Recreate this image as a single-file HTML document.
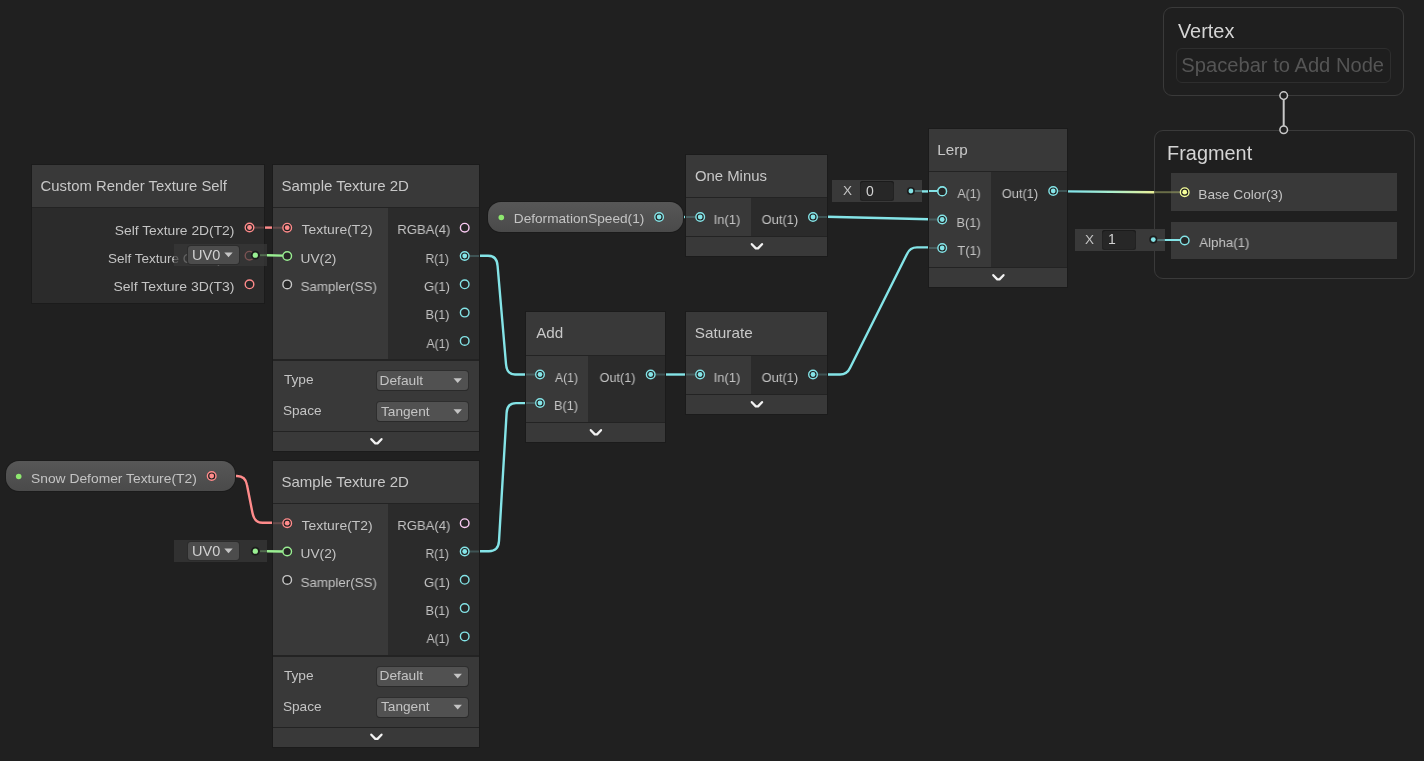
<!DOCTYPE html>
<html><head><meta charset="utf-8"><style>
html,body{margin:0;padding:0;width:1424px;height:761px;overflow:hidden;background:#202020;font-family:"Liberation Sans", sans-serif;}
#root{position:relative;width:1424px;height:761px;}
#root > div{position:absolute;}
.t{white-space:nowrap;line-height:normal;will-change:transform;}
svg{position:absolute;left:0;top:0;}

</style></head><body><div id="root">
<svg width="1424" height="761" style="position:absolute;left:0;top:0"><defs><linearGradient id="g1" gradientUnits="userSpaceOnUse" x1="1075" y1="0" x2="1152" y2="0"><stop offset="0" stop-color="#84e4e7"/><stop offset="0.45" stop-color="#a8eed0"/><stop offset="1" stop-color="#e6f09a"/></linearGradient></defs><path d="M479,255.8 L488,255.8 Q497,255.8 497.6,266 L506,364 Q506.8,374.5 515,374.5 L526,374.5" fill="none" stroke="#84e4e7" stroke-width="2.4" stroke-linejoin="round" /><path d="M479,551.2 L489,551.2 Q498.4,551.2 499,541 L506.6,413 Q507.2,403.1 516,403.1 L526,403.1" fill="none" stroke="#84e4e7" stroke-width="2.4" stroke-linejoin="round" /><path d="M665,374.5 L686,374.5" fill="none" stroke="#84e4e7" stroke-width="2.4" stroke-linejoin="round" /><path d="M827,374.5 L840,374.5 Q847,374.5 850,368 L907,254 Q910,247.4 917,247.4 L929,247.4" fill="none" stroke="#84e4e7" stroke-width="2.4" stroke-linejoin="round" /><path d="M827,216.8 L929,219.3" fill="none" stroke="#84e4e7" stroke-width="2.4" stroke-linejoin="round" /><path d="M683,217 L686,217" fill="none" stroke="#84e4e7" stroke-width="2.4" stroke-linejoin="round" /><path d="M916,191.4 L938,191.4" fill="none" stroke="#84e4e7" stroke-width="2.4" stroke-linejoin="round" /><path d="M1067,191.4 L1154,192.2" fill="none" stroke="url(#g1)" stroke-width="2.4" stroke-linejoin="round" /><path d="M1158,240 L1180,240" fill="none" stroke="#84e4e7" stroke-width="2.4" stroke-linejoin="round" /><path d="M264,227.6 L273,227.6" fill="none" stroke="#ff8b8b" stroke-width="2.4" stroke-linejoin="round" /><path d="M235,476 L237,476 Q245.5,476 247,485 L252.5,513 Q254.5,522.8 262.5,522.8 L273,522.8" fill="none" stroke="#ff8b8b" stroke-width="2.4" stroke-linejoin="round" /></svg>
<div style="left:31px;top:164px;width:234px;height:140px;background:#1b1b1b;"></div>
<div style="left:32px;top:165px;width:232px;height:42px;background:#393939;"></div>
<div style="left:32px;top:207px;width:232px;height:1px;background:#232323;"></div>
<div class="t" id="t0" style="left:41.5px;top:178.11px;font-size:14.8px;color:#c8c8c8;transform:translateX(-1.41px) scaleX(1.0043);transform-origin:0 0;">Custom Render Texture Self</div>
<div style="left:32px;top:208px;width:232px;height:95px;background:#2b2b2b;"></div>
<div class="t" id="t1" style="right:1190.4px;top:222.78px;font-size:13.5px;color:#c4c4c4;transform:translateX(-2.23px) scaleX(1.0243);transform-origin:0 0;">Self Texture 2D(T2)</div>
<div class="t" id="t2" style="left:107.6px;top:250.78px;font-size:13.5px;color:#c4c4c4;width:126px;overflow:hidden">Self Texture Cube(TC)</div>
<div class="t" id="t3" style="right:1190.4px;top:279.28px;font-size:13.5px;color:#c4c4c4;transform:translateX(-3.54px) scaleX(1.0357);transform-origin:0 0;">Self Texture 3D(T3)</div>
<div style="left:272px;top:164px;width:208px;height:288px;background:#1b1b1b;"></div>
<div style="left:273px;top:165px;width:206px;height:42px;background:#393939;"></div>
<div style="left:273px;top:207px;width:206px;height:1px;background:#232323;"></div>
<div class="t" id="t4" style="left:282.5px;top:178.11px;font-size:14.8px;color:#c8c8c8;transform:translateX(-1.62px) scaleX(1.0153);transform-origin:0 0;">Sample Texture 2D</div>
<div style="left:273px;top:208px;width:115px;height:151px;background:#393939;"></div>
<div style="left:388px;top:208px;width:91px;height:151px;background:#2b2b2b;"></div>
<div style="left:273px;top:359px;width:206px;height:2px;background:#232323;"></div>
<div style="left:273px;top:361px;width:206px;height:71px;background:#393939;"></div>
<div class="t" id="t5" style="left:301.6px;top:222.48px;font-size:13.5px;color:#c4c4c4;transform:translateX(-0.41px) scaleX(1.0294);transform-origin:0 0;">Texture(T2)</div>
<div class="t" id="t6" style="left:301.6px;top:250.78px;font-size:13.5px;color:#c4c4c4;transform:translateX(-1.42px) scaleX(1.0147);transform-origin:0 0;">UV(2)</div>
<div class="t" id="t7" style="left:301.6px;top:279.18px;font-size:13.5px;color:#c4c4c4;transform:translateX(-1.38px) scaleX(0.9868);transform-origin:0 0;">Sampler(SS)</div>
<div class="t" id="t8" style="right:974.4px;top:222.48px;font-size:13.5px;color:#c4c4c4;transform:translateX(2.34px) scaleX(0.9679);transform-origin:0 0;">RGBA(4)</div>
<div class="t" id="t9" style="right:974.4px;top:250.78px;font-size:13.5px;color:#c4c4c4;transform:translateX(2.57px) scaleX(0.8840);transform-origin:0 0;">R(1)</div>
<div class="t" id="t10" style="right:974.4px;top:279.08px;font-size:13.5px;color:#c4c4c4;transform:translateX(0.95px) scaleX(0.9640);transform-origin:0 0;">G(1)</div>
<div class="t" id="t11" style="right:974.4px;top:307.38px;font-size:13.5px;color:#c4c4c4;transform:translateX(1.56px) scaleX(0.9375);transform-origin:0 0;">B(1)</div>
<div class="t" id="t12" style="right:974.4px;top:335.68px;font-size:13.5px;color:#c4c4c4;transform:translateX(2.49px) scaleX(0.9000);transform-origin:0 0;">A(1)</div>
<div class="t" id="t13" style="left:284px;top:372.48px;font-size:13.5px;color:#c4c4c4;transform:translateX(-0.10px) scaleX(1.0138);transform-origin:0 0;">Type</div>
<div class="t" id="t14" style="left:284px;top:403.38px;font-size:13.5px;color:#c4c4c4;transform:translateX(-1.11px) scaleX(1.0108);transform-origin:0 0;">Space</div>
<div style="left:376.5px;top:371.2px;width:91.5px;height:19px;background:#515151;border-radius:3px;box-shadow:0 1px 0 #2a2a2a, 0 0 0 1px #2e2e2e"></div>
<div class="t" id="t15" style="left:380.5px;top:372.98px;font-size:13.5px;color:#c4c4c4;transform:translateX(-1.53px) scaleX(1.0190);transform-origin:0 0;">Default</div>
<div style="left:376.5px;top:402.1px;width:91.5px;height:19px;background:#515151;border-radius:3px;box-shadow:0 1px 0 #2a2a2a, 0 0 0 1px #2e2e2e"></div>
<div class="t" id="t16" style="left:380.5px;top:403.88px;font-size:13.5px;color:#c4c4c4;transform:translateX(-0.01px) scaleX(1.0104);transform-origin:0 0;">Tangent</div>
<div style="left:273px;top:431px;width:206px;height:1px;background:#232323;"></div>
<div style="left:273px;top:432px;width:206px;height:19px;background:#393939;"></div>
<div style="left:272px;top:459.5px;width:208px;height:288px;background:#1b1b1b;"></div>
<div style="left:273px;top:460.5px;width:206px;height:42px;background:#393939;"></div>
<div style="left:273px;top:502.5px;width:206px;height:1px;background:#232323;"></div>
<div class="t" id="t17" style="left:282.5px;top:473.61px;font-size:14.8px;color:#c8c8c8;transform:translateX(-1.62px) scaleX(1.0153);transform-origin:0 0;">Sample Texture 2D</div>
<div style="left:273px;top:503.5px;width:115px;height:151px;background:#393939;"></div>
<div style="left:388px;top:503.5px;width:91px;height:151px;background:#2b2b2b;"></div>
<div style="left:273px;top:654.5px;width:206px;height:2px;background:#232323;"></div>
<div style="left:273px;top:656.5px;width:206px;height:71px;background:#393939;"></div>
<div class="t" id="t18" style="left:301.6px;top:517.98px;font-size:13.5px;color:#c4c4c4;transform:translateX(-0.41px) scaleX(1.0294);transform-origin:0 0;">Texture(T2)</div>
<div class="t" id="t19" style="left:301.6px;top:546.28px;font-size:13.5px;color:#c4c4c4;transform:translateX(-1.42px) scaleX(1.0147);transform-origin:0 0;">UV(2)</div>
<div class="t" id="t20" style="left:301.6px;top:574.68px;font-size:13.5px;color:#c4c4c4;transform:translateX(-1.38px) scaleX(0.9868);transform-origin:0 0;">Sampler(SS)</div>
<div class="t" id="t21" style="right:974.4px;top:517.98px;font-size:13.5px;color:#c4c4c4;transform:translateX(2.34px) scaleX(0.9679);transform-origin:0 0;">RGBA(4)</div>
<div class="t" id="t22" style="right:974.4px;top:546.28px;font-size:13.5px;color:#c4c4c4;transform:translateX(2.57px) scaleX(0.8840);transform-origin:0 0;">R(1)</div>
<div class="t" id="t23" style="right:974.4px;top:574.58px;font-size:13.5px;color:#c4c4c4;transform:translateX(0.95px) scaleX(0.9640);transform-origin:0 0;">G(1)</div>
<div class="t" id="t24" style="right:974.4px;top:602.88px;font-size:13.5px;color:#c4c4c4;transform:translateX(1.56px) scaleX(0.9375);transform-origin:0 0;">B(1)</div>
<div class="t" id="t25" style="right:974.4px;top:631.18px;font-size:13.5px;color:#c4c4c4;transform:translateX(2.49px) scaleX(0.9000);transform-origin:0 0;">A(1)</div>
<div class="t" id="t26" style="left:284px;top:667.98px;font-size:13.5px;color:#c4c4c4;transform:translateX(-0.10px) scaleX(1.0138);transform-origin:0 0;">Type</div>
<div class="t" id="t27" style="left:284px;top:698.88px;font-size:13.5px;color:#c4c4c4;transform:translateX(-1.11px) scaleX(1.0108);transform-origin:0 0;">Space</div>
<div style="left:376.5px;top:666.7px;width:91.5px;height:19px;background:#515151;border-radius:3px;box-shadow:0 1px 0 #2a2a2a, 0 0 0 1px #2e2e2e"></div>
<div class="t" id="t28" style="left:380.5px;top:668.48px;font-size:13.5px;color:#c4c4c4;transform:translateX(-1.53px) scaleX(1.0190);transform-origin:0 0;">Default</div>
<div style="left:376.5px;top:697.6px;width:91.5px;height:19px;background:#515151;border-radius:3px;box-shadow:0 1px 0 #2a2a2a, 0 0 0 1px #2e2e2e"></div>
<div class="t" id="t29" style="left:380.5px;top:699.38px;font-size:13.5px;color:#c4c4c4;transform:translateX(-0.01px) scaleX(1.0104);transform-origin:0 0;">Tangent</div>
<div style="left:273px;top:726.5px;width:206px;height:1px;background:#232323;"></div>
<div style="left:273px;top:727.5px;width:206px;height:19px;background:#393939;"></div>
<div style="left:174px;top:243.8px;width:93px;height:22.5px;background:rgba(57,57,57,0.7)"></div>
<div style="left:188px;top:246.3px;width:51px;height:17.5px;background:#4c4c4c;border-radius:3px;box-shadow:0 0 0 1px #2c2c2c"></div>
<div class="t" id="t30" style="left:192px;top:246.88px;font-size:14.5px;color:#d0d0d0;">UV0</div>
<div style="left:174px;top:539.8px;width:93px;height:22.5px;background:rgba(57,57,57,0.7)"></div>
<div style="left:188px;top:542.3px;width:51px;height:17.5px;background:#4c4c4c;border-radius:3px;box-shadow:0 0 0 1px #2c2c2c"></div>
<div class="t" id="t31" style="left:192px;top:542.88px;font-size:14.5px;color:#d0d0d0;">UV0</div>
<div style="left:488.2px;top:202px;width:194.4px;height:30px;border-radius:13px;background:linear-gradient(#575757,#4a4a4a);box-shadow:0 0 0 1px #1b1b1b"></div>
<div class="t" id="t32" style="left:514.8px;top:211.38px;font-size:13.5px;color:#c4c4c4;transform:translateX(-1.21px) scaleX(1.0110);transform-origin:0 0;">DeformationSpeed(1)</div>
<div style="left:6px;top:461px;width:229.3px;height:30px;border-radius:13px;background:linear-gradient(#575757,#4a4a4a);box-shadow:0 0 0 1px #1b1b1b"></div>
<div class="t" id="t33" style="left:32px;top:470.58px;font-size:13.5px;color:#c4c4c4;transform:translateX(-1.02px) scaleX(1.0244);transform-origin:0 0;">Snow Defomer Texture(T2)</div>
<div style="left:685px;top:154px;width:143px;height:103px;background:#1b1b1b;"></div>
<div style="left:686px;top:155px;width:141px;height:42px;background:#393939;"></div>
<div style="left:686px;top:197px;width:141px;height:1px;background:#232323;"></div>
<div class="t" id="t34" style="left:695.5px;top:168.11px;font-size:14.8px;color:#c8c8c8;transform:translateX(-1.11px) scaleX(1.0071);transform-origin:0 0;">One Minus</div>
<div style="left:686px;top:198px;width:65px;height:38px;background:#393939;"></div>
<div style="left:751px;top:198px;width:76px;height:38px;background:#2b2b2b;"></div>
<div style="left:686px;top:236px;width:141px;height:1px;background:#232323;"></div>
<div style="left:686px;top:237px;width:141px;height:19px;background:#393939;"></div>
<div class="t" id="t35" style="left:715.0px;top:212.28px;font-size:13.5px;color:#c4c4c4;transform:translateX(-1.36px) scaleX(0.9615);transform-origin:0 0;">In(1)</div>
<div class="t" id="t36" style="left:761.6px;top:212.28px;font-size:13.5px;color:#c4c4c4;transform:translateX(-0.38px) scaleX(0.9553);transform-origin:0 0;">Out(1)</div>
<div style="left:685px;top:311px;width:143px;height:104px;background:#1b1b1b;"></div>
<div style="left:686px;top:312px;width:141px;height:43px;background:#393939;"></div>
<div style="left:686px;top:355px;width:141px;height:1px;background:#232323;"></div>
<div class="t" id="t37" style="left:695.5px;top:325.11px;font-size:14.8px;color:#c8c8c8;transform:translateX(-1.15px) scaleX(1.0352);transform-origin:0 0;">Saturate</div>
<div style="left:686px;top:356px;width:65px;height:38px;background:#393939;"></div>
<div style="left:751px;top:356px;width:76px;height:38px;background:#2b2b2b;"></div>
<div style="left:686px;top:394px;width:141px;height:1px;background:#232323;"></div>
<div style="left:686px;top:395px;width:141px;height:19px;background:#393939;"></div>
<div class="t" id="t38" style="left:714.9px;top:369.78px;font-size:13.5px;color:#c4c4c4;transform:translateX(-1.36px) scaleX(0.9615);transform-origin:0 0;">In(1)</div>
<div class="t" id="t39" style="left:761.6px;top:369.78px;font-size:13.5px;color:#c4c4c4;transform:translateX(-0.38px) scaleX(0.9553);transform-origin:0 0;">Out(1)</div>
<div style="left:525px;top:311px;width:141px;height:132px;background:#1b1b1b;"></div>
<div style="left:526px;top:312px;width:139px;height:43px;background:#393939;"></div>
<div style="left:526px;top:355px;width:139px;height:1px;background:#232323;"></div>
<div class="t" id="t40" style="left:535.5px;top:325.11px;font-size:14.8px;color:#c8c8c8;transform:translateX(0.19px) scaleX(1.0280);transform-origin:0 0;">Add</div>
<div style="left:526px;top:356px;width:62px;height:66px;background:#393939;"></div>
<div style="left:588px;top:356px;width:77px;height:66px;background:#2b2b2b;"></div>
<div style="left:526px;top:422px;width:139px;height:1px;background:#232323;"></div>
<div style="left:526px;top:423px;width:139px;height:19px;background:#393939;"></div>
<div class="t" id="t41" style="left:554.8px;top:369.78px;font-size:13.5px;color:#c4c4c4;transform:translateX(-0.08px) scaleX(0.9040);transform-origin:0 0;">A(1)</div>
<div class="t" id="t42" style="left:554.8px;top:398.28px;font-size:13.5px;color:#c4c4c4;transform:translateX(-1.03px) scaleX(0.9417);transform-origin:0 0;">B(1)</div>
<div class="t" id="t43" style="left:599.6px;top:369.78px;font-size:13.5px;color:#c4c4c4;transform:translateX(-0.37px) scaleX(0.9368);transform-origin:0 0;">Out(1)</div>
<div style="left:928px;top:128px;width:140px;height:160px;background:#1b1b1b;"></div>
<div style="left:929px;top:129px;width:138px;height:42px;background:#393939;"></div>
<div style="left:929px;top:171px;width:138px;height:1px;background:#232323;"></div>
<div class="t" id="t44" style="left:938.5px;top:142.11px;font-size:14.8px;color:#c8c8c8;transform:translateX(-1.64px) scaleX(1.0286);transform-origin:0 0;">Lerp</div>
<div style="left:929px;top:172px;width:62px;height:95px;background:#393939;"></div>
<div style="left:991px;top:172px;width:76px;height:95px;background:#2b2b2b;"></div>
<div style="left:929px;top:267px;width:138px;height:1px;background:#232323;"></div>
<div style="left:929px;top:268px;width:138px;height:19px;background:#393939;"></div>
<div class="t" id="t45" style="left:957.0px;top:186.28px;font-size:13.5px;color:#c4c4c4;transform:translateX(0.40px) scaleX(0.9120);transform-origin:0 0;">A(1)</div>
<div class="t" id="t46" style="left:957.0px;top:214.78px;font-size:13.5px;color:#c4c4c4;transform:translateX(-0.55px) scaleX(0.9500);transform-origin:0 0;">B(1)</div>
<div class="t" id="t47" style="left:957.0px;top:243.28px;font-size:13.5px;color:#c4c4c4;transform:translateX(0.40px) scaleX(0.9500);transform-origin:0 0;">T(1)</div>
<div class="t" id="t48" style="left:1001.8px;top:186.28px;font-size:13.5px;color:#c4c4c4;transform:translateX(-0.19px) scaleX(0.9474);transform-origin:0 0;">Out(1)</div>
<div style="left:832.3px;top:179.5px;width:89.7px;height:22px;background:#393939"></div>
<div class="t" id="t49" style="left:842.8px;top:183.28px;font-size:13.5px;color:#c4c4c4;">X</div>
<div style="left:859.5px;top:180.5px;width:34px;height:20px;background:#272727;border-radius:3px;box-shadow:inset 0 1px 0 #1b1b1b, inset 0 0 0 1px #222"></div>
<div class="t" id="t50" style="left:865.5px;top:182.83px;font-size:14px;color:#d2d2d2;">0</div>
<div style="left:1163px;top:7px;width:239px;height:87px;border:1px solid #3a3a3a;border-radius:9px;background:#1f1f1f"></div>
<div class="t" id="t51" style="left:1177.9px;top:20.45px;font-size:19.5px;color:#d4d4d4;transform:translateX(-0.10px) scaleX(1.0218);transform-origin:0 0;">Vertex</div>
<div style="left:1176px;top:48px;width:213px;height:33px;border:1px solid #2e2e2e;border-radius:6px;background:#1e1e1e"></div>
<div class="t" id="t52" style="left:1182.3px;top:54.10px;font-size:20px;color:#555555;transform:translateX(-0.71px) scaleX(1.0075);transform-origin:0 0;">Spacebar to Add Node</div>
<div style="left:1154px;top:129.5px;width:258.5px;height:147.5px;border:1px solid #3a3a3a;border-radius:9px;background:#1f1f1f"></div>
<div class="t" id="t53" style="left:1168.1px;top:142.35px;font-size:19.5px;color:#d4d4d4;transform:translateX(-0.92px) scaleX(1.0195);transform-origin:0 0;">Fragment</div>
<div style="left:1170.7px;top:173.1px;width:226.2px;height:37.5px;background:#393939;"></div>
<div style="left:1170.7px;top:221.6px;width:226.2px;height:37.6px;background:#393939;"></div>
<div class="t" id="t54" style="left:1199.3px;top:186.88px;font-size:13.5px;color:#c4c4c4;transform:translateX(-0.71px) scaleX(1.0134);transform-origin:0 0;">Base Color(3)</div>
<div class="t" id="t55" style="left:1199.3px;top:235.48px;font-size:13.5px;color:#c4c4c4;transform:translateX(0.29px) scaleX(0.9820);transform-origin:0 0;">Alpha(1)</div>
<div style="left:1074.6px;top:229px;width:90.2px;height:22px;background:#393939"></div>
<div class="t" id="t56" style="left:1085.1px;top:231.88px;font-size:13.5px;color:#c4c4c4;">X</div>
<div style="left:1102.2px;top:230px;width:34px;height:20px;background:#272727;border-radius:3px;box-shadow:inset 0 1px 0 #1b1b1b, inset 0 0 0 1px #222"></div>
<div class="t" id="t57" style="left:1108.2px;top:231.43px;font-size:14px;color:#d2d2d2;">1</div>
<svg width="1424" height="761" style="position:absolute;left:0;top:0"><path d="M267,255.3 L283,255.6" fill="none" stroke="#9aef92" stroke-width="2.4" stroke-linejoin="round" /><path d="M267,551.2 L283,551.5" fill="none" stroke="#9aef92" stroke-width="2.4" stroke-linejoin="round" /><polygon points="453.5,378.3 461.9,378.3 457.7,383.09999999999997" fill="#c4c4c4"/><polygon points="453.5,409.20000000000005 461.9,409.20000000000005 457.7,414.0" fill="#c4c4c4"/><polyline points="371.29999999999995,439.2 375.29999999999995,443.40000000000003 377.5,443.40000000000003 381.5,439.2" fill="none" stroke="#f2f2f2" stroke-width="2.3" stroke-linecap="round" stroke-linejoin="round"/><circle cx="287.2" cy="227.7" r="4.3" fill="#1f1f1f" stroke="#ff8b8b" stroke-width="1.4"/><circle cx="287.2" cy="227.7" r="2.4" fill="#ff8b8b"/><circle cx="287.2" cy="256" r="4.3" fill="#262626" stroke="#9aef92" stroke-width="1.4"/><circle cx="287.2" cy="284.4" r="4.3" fill="#262626" stroke="#c8c8c8" stroke-width="1.4"/><circle cx="464.7" cy="227.7" r="4.3" fill="#262626" stroke="#fbcbf4" stroke-width="1.4"/><circle cx="464.7" cy="256" r="4.3" fill="#1f1f1f" stroke="#84e4e7" stroke-width="1.4"/><circle cx="464.7" cy="256" r="2.4" fill="#84e4e7"/><circle cx="464.7" cy="284.3" r="4.3" fill="#262626" stroke="#84e4e7" stroke-width="1.4"/><circle cx="464.7" cy="312.6" r="4.3" fill="#262626" stroke="#84e4e7" stroke-width="1.4"/><circle cx="464.7" cy="340.9" r="4.3" fill="#262626" stroke="#84e4e7" stroke-width="1.4"/><line x1="273" y1="227.7" x2="283" y2="227.7" stroke="#ff8b8b" stroke-opacity="0.22" stroke-width="2"/><line x1="469" y1="256" x2="479" y2="256" stroke="#84e4e7" stroke-opacity="0.22" stroke-width="2"/><polygon points="453.5,673.8000000000001 461.9,673.8000000000001 457.7,678.6" fill="#c4c4c4"/><polygon points="453.5,704.7 461.9,704.7 457.7,709.5" fill="#c4c4c4"/><polyline points="371.29999999999995,734.6999999999999 375.29999999999995,738.9 377.5,738.9 381.5,734.6999999999999" fill="none" stroke="#f2f2f2" stroke-width="2.3" stroke-linecap="round" stroke-linejoin="round"/><circle cx="287.2" cy="523.2" r="4.3" fill="#1f1f1f" stroke="#ff8b8b" stroke-width="1.4"/><circle cx="287.2" cy="523.2" r="2.4" fill="#ff8b8b"/><circle cx="287.2" cy="551.5" r="4.3" fill="#262626" stroke="#9aef92" stroke-width="1.4"/><circle cx="287.2" cy="579.9" r="4.3" fill="#262626" stroke="#c8c8c8" stroke-width="1.4"/><circle cx="464.7" cy="523.2" r="4.3" fill="#262626" stroke="#fbcbf4" stroke-width="1.4"/><circle cx="464.7" cy="551.5" r="4.3" fill="#1f1f1f" stroke="#84e4e7" stroke-width="1.4"/><circle cx="464.7" cy="551.5" r="2.4" fill="#84e4e7"/><circle cx="464.7" cy="579.8000000000001" r="4.3" fill="#262626" stroke="#84e4e7" stroke-width="1.4"/><circle cx="464.7" cy="608.1" r="4.3" fill="#262626" stroke="#84e4e7" stroke-width="1.4"/><circle cx="464.7" cy="636.4000000000001" r="4.3" fill="#262626" stroke="#84e4e7" stroke-width="1.4"/><line x1="273" y1="523.2" x2="283" y2="523.2" stroke="#ff8b8b" stroke-opacity="0.22" stroke-width="2"/><line x1="469" y1="551.5" x2="479" y2="551.5" stroke="#84e4e7" stroke-opacity="0.22" stroke-width="2"/><line x1="254" y1="227.6" x2="264" y2="227.6" stroke="#ff8b8b" stroke-opacity="0.22" stroke-width="2"/><circle cx="249.5" cy="227.5" r="4.3" fill="#1f1f1f" stroke="#ff8b8b" stroke-width="1.4"/><circle cx="249.5" cy="227.5" r="2.4" fill="#ff8b8b"/><circle cx="249.5" cy="284.3" r="4.3" fill="#262626" stroke="#ff8b8b" stroke-width="1.4"/><circle cx="249.5" cy="255.7" r="4.3" fill="none" stroke="#ff8b8b" stroke-opacity="0.35" stroke-width="1.4"/><polygon points="224.3,252.4 232.7,252.4 228.5,257.2" fill="#c4c4c4"/><circle cx="255.3" cy="255.20000000000002" r="4.4" fill="#1c1c1c"/><circle cx="255.3" cy="255.20000000000002" r="2.6" fill="#9aef92"/><line x1="260" y1="255.20000000000002" x2="267" y2="255.20000000000002" stroke="#9aef92" stroke-opacity="0.3" stroke-width="2"/><polygon points="224.3,548.4 232.7,548.4 228.5,553.1999999999999" fill="#c4c4c4"/><circle cx="255.3" cy="551.1999999999999" r="4.4" fill="#1c1c1c"/><circle cx="255.3" cy="551.1999999999999" r="2.6" fill="#9aef92"/><line x1="260" y1="551.1999999999999" x2="267" y2="551.1999999999999" stroke="#9aef92" stroke-opacity="0.3" stroke-width="2"/><circle cx="501.3" cy="217.5" r="2.8" fill="#8ee86f"/><circle cx="659.1" cy="217" r="4.3" fill="#1f1f1f" stroke="#84e4e7" stroke-width="1.4"/><circle cx="659.1" cy="217" r="2.4" fill="#84e4e7"/><circle cx="18.7" cy="476.5" r="2.8" fill="#8ee86f"/><circle cx="211.7" cy="476" r="4.3" fill="#1f1f1f" stroke="#ff8b8b" stroke-width="1.4"/><circle cx="211.7" cy="476" r="2.4" fill="#ff8b8b"/><polyline points="751.8,244.20000000000002 755.8,248.4 758.0,248.4 762.0,244.20000000000002" fill="none" stroke="#f2f2f2" stroke-width="2.3" stroke-linecap="round" stroke-linejoin="round"/><circle cx="700.2" cy="217.0" r="4.3" fill="#1f1f1f" stroke="#84e4e7" stroke-width="1.4"/><circle cx="700.2" cy="217.0" r="2.4" fill="#84e4e7"/><line x1="686" y1="217.0" x2="696.2" y2="217.0" stroke="#84e4e7" stroke-opacity="0.22" stroke-width="2"/><circle cx="813" cy="217.0" r="4.3" fill="#1f1f1f" stroke="#84e4e7" stroke-width="1.4"/><circle cx="813" cy="217.0" r="2.4" fill="#84e4e7"/><line x1="817" y1="217.0" x2="827" y2="217.0" stroke="#84e4e7" stroke-opacity="0.22" stroke-width="2"/><polyline points="751.8,402.2 755.8,406.40000000000003 758.0,406.40000000000003 762.0,402.2" fill="none" stroke="#f2f2f2" stroke-width="2.3" stroke-linecap="round" stroke-linejoin="round"/><circle cx="700.1" cy="374.5" r="4.3" fill="#1f1f1f" stroke="#84e4e7" stroke-width="1.4"/><circle cx="700.1" cy="374.5" r="2.4" fill="#84e4e7"/><line x1="686" y1="374.5" x2="696.1" y2="374.5" stroke="#84e4e7" stroke-opacity="0.22" stroke-width="2"/><circle cx="813" cy="374.5" r="4.3" fill="#1f1f1f" stroke="#84e4e7" stroke-width="1.4"/><circle cx="813" cy="374.5" r="2.4" fill="#84e4e7"/><line x1="817" y1="374.5" x2="827" y2="374.5" stroke="#84e4e7" stroke-opacity="0.22" stroke-width="2"/><polyline points="590.8,430.2 594.8,434.40000000000003 597.0,434.40000000000003 601.0,430.2" fill="none" stroke="#f2f2f2" stroke-width="2.3" stroke-linecap="round" stroke-linejoin="round"/><circle cx="540" cy="374.5" r="4.3" fill="#1f1f1f" stroke="#84e4e7" stroke-width="1.4"/><circle cx="540" cy="374.5" r="2.4" fill="#84e4e7"/><line x1="526" y1="374.5" x2="536" y2="374.5" stroke="#84e4e7" stroke-opacity="0.22" stroke-width="2"/><circle cx="540" cy="403.0" r="4.3" fill="#1f1f1f" stroke="#84e4e7" stroke-width="1.4"/><circle cx="540" cy="403.0" r="2.4" fill="#84e4e7"/><line x1="526" y1="403.0" x2="536" y2="403.0" stroke="#84e4e7" stroke-opacity="0.22" stroke-width="2"/><circle cx="650.7" cy="374.5" r="4.3" fill="#1f1f1f" stroke="#84e4e7" stroke-width="1.4"/><circle cx="650.7" cy="374.5" r="2.4" fill="#84e4e7"/><line x1="654.7" y1="374.5" x2="665" y2="374.5" stroke="#84e4e7" stroke-opacity="0.22" stroke-width="2"/><polyline points="993.3,275.2 997.3,279.40000000000003 999.5,279.40000000000003 1003.5,275.2" fill="none" stroke="#f2f2f2" stroke-width="2.3" stroke-linecap="round" stroke-linejoin="round"/><circle cx="942.2" cy="191.0" r="4.3" fill="#1f1f1f" stroke="#84e4e7" stroke-width="1.4"/><circle cx="942.2" cy="191.0" r="2.4" fill="#84e4e7"/><line x1="929" y1="191.0" x2="938.2" y2="191.0" stroke="#84e4e7" stroke-opacity="1" stroke-width="2"/><circle cx="942.2" cy="219.5" r="4.3" fill="#1f1f1f" stroke="#84e4e7" stroke-width="1.4"/><circle cx="942.2" cy="219.5" r="2.4" fill="#84e4e7"/><line x1="929" y1="219.5" x2="938.2" y2="219.5" stroke="#84e4e7" stroke-opacity="0.22" stroke-width="2"/><circle cx="942.2" cy="248.0" r="4.3" fill="#1f1f1f" stroke="#84e4e7" stroke-width="1.4"/><circle cx="942.2" cy="248.0" r="2.4" fill="#84e4e7"/><line x1="929" y1="248.0" x2="938.2" y2="248.0" stroke="#84e4e7" stroke-opacity="0.22" stroke-width="2"/><circle cx="1053.2" cy="191.0" r="4.3" fill="#1f1f1f" stroke="#84e4e7" stroke-width="1.4"/><circle cx="1053.2" cy="191.0" r="2.4" fill="#84e4e7"/><line x1="1057.2" y1="191.0" x2="1067" y2="191.0" stroke="#84e4e7" stroke-opacity="0.22" stroke-width="2"/><line x1="913.9" y1="191.0" x2="922.0" y2="191.0" stroke="#84e4e7" stroke-opacity="0.35" stroke-width="2"/><circle cx="910.9" cy="191.0" r="4" fill="#1c1c1c"/><circle cx="910.9" cy="191.0" r="2.4" fill="#84e4e7"/><circle cx="942.2" cy="191.4" r="4.3" fill="#262626" stroke="#84e4e7" stroke-width="1.4"/><line x1="1156.3" y1="240.05" x2="1164.8" y2="240.05" stroke="#84e4e7" stroke-opacity="0.35" stroke-width="2"/><circle cx="1153.3" cy="239.6" r="4" fill="#1c1c1c"/><circle cx="1153.3" cy="239.6" r="2.4" fill="#84e4e7"/><line x1="1283.7" y1="99" x2="1283.7" y2="126" stroke="#c8c8c8" stroke-width="2"/><circle cx="1283.7" cy="95.6" r="3.8" fill="#202020" stroke="#c8c8c8" stroke-width="1.5"/><circle cx="1283.7" cy="129.8" r="3.8" fill="#202020" stroke="#c8c8c8" stroke-width="1.5"/><line x1="1154" y1="192.2" x2="1180" y2="192.2" stroke="#9aa062" stroke-opacity="0.6" stroke-width="2"/><circle cx="1184.7" cy="192.2" r="4.3" fill="#1f1f1f" stroke="#f6ff9a" stroke-width="1.4"/><circle cx="1184.7" cy="192.2" r="2.4" fill="#f6ff9a"/><line x1="1164.8" y1="240" x2="1180" y2="240" stroke="#84e4e7" stroke-width="2"/><circle cx="1184.7" cy="240.5" r="4.3" fill="#262626" stroke="#84e4e7" stroke-width="1.4"/></svg>
</div></body></html>
